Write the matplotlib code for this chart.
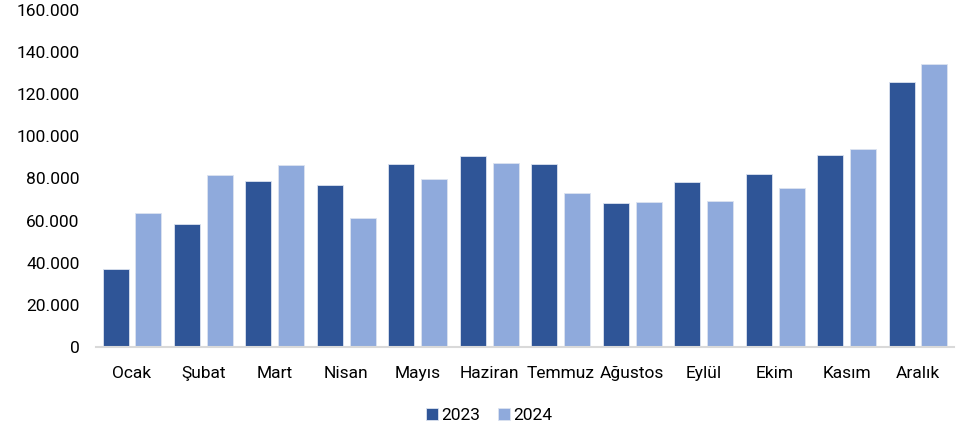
import matplotlib

matplotlib.use("Agg")
import matplotlib.pyplot as plt  # noqa: E402
import numpy as np
from matplotlib.ticker import FuncFormatter

months = ["Ocak", "Şubat", "Mart", "Nisan", "Mayıs", "Haziran",
          "Temmuz", "Ağustos", "Eylül", "Ekim", "Kasım", "Aralık"]
values_2023 = [37000, 58400, 78800, 76900, 86900, 90700,
               86900, 68400, 78400, 82100, 91200, 125800]
values_2024 = [63600, 81700, 86400, 61300, 79800, 87400,
               73100, 68900, 69300, 75500, 94000, 134400]

plt.rcParams["font.family"] = ["Roboto", "DejaVu Sans"]

fig = plt.figure(figsize=(9.61, 4.33), dpi=100)
ax = fig.add_axes([0.1002, 0.1986, 0.8922, 0.7784])

x = np.arange(len(months))
w = 0.364
ax.bar(x - 0.23, values_2023, w, color="#2F5597", edgecolor="#DCE3F0",
       linewidth=0.6, label="2023")
ax.bar(x + 0.23, values_2024, w, color="#8FAADC", edgecolor="#DCE3F0",
       linewidth=0.6, label="2024")

ax.set_xlim(-0.5, 11.5)
ax.set_ylim(0, 160000)
ax.set_yticks(range(0, 160001, 20000))
ax.yaxis.set_major_formatter(FuncFormatter(lambda v, p: f"{int(v):,}".replace(",", ".")))
ax.set_xticks(x)
ax.set_xticklabels(months)
ax.tick_params(axis="both", length=0, labelsize=12.5, colors="#000000")
ax.tick_params(axis="x", pad=14)
ax.tick_params(axis="y", pad=12)

for s in ["top", "right", "left"]:
    ax.spines[s].set_visible(False)
ax.spines["bottom"].set_color("#D9D9D9")
ax.spines["bottom"].set_linewidth(1.5)

ax.legend(loc="center", bbox_to_anchor=(0.458, -0.203), ncol=2, frameon=False,
          fontsize=12.5, handlelength=0.7, handleheight=0.7, handletextpad=0.2,
          columnspacing=1.0)

fig.savefig("out.png", dpi=100)
